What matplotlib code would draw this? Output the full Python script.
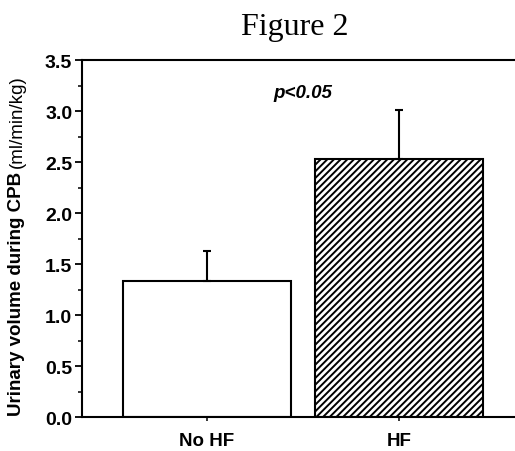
import matplotlib.pyplot as plt
from matplotlib.ticker import MultipleLocator

groups = ['No HF', 'HF']
volume = [1.33, 2.53]
volume_sd = [0.30, 0.48]
hatches = ['', '/////']

plt.rcParams['font.family'] = ['Liberation Sans', 'DejaVu Sans']
plt.rcParams['hatch.linewidth'] = 1.4

fig = plt.figure(figsize=(5.15, 4.52), dpi=100)
ax = fig.add_axes([0.159, 0.075, 0.876, 0.79])

x = list(range(len(groups)))
bars = ax.bar(x, volume, width=0.875, color='white', edgecolor='black',
              linewidth=1.5, zorder=2)
for b, h in zip(bars, hatches):
    b.set_hatch(h)
ax.errorbar(x, volume, yerr=[[0, 0], volume_sd], fmt='none', ecolor='black',
            elinewidth=1.5, capsize=3, capthick=1.5, zorder=3)

ax.set_xlim(-0.651, 1.7)
ax.set_ylim(0, 3.5)
ax.yaxis.set_major_locator(MultipleLocator(0.5))
ax.yaxis.set_minor_locator(MultipleLocator(0.25))
ax.set_yticks([0, 0.5, 1.0, 1.5, 2.0, 2.5, 3.0, 3.5])
ax.set_yticklabels([f'{v:.1f}' for v in ax.get_yticks()],
                   fontsize=14, fontweight='bold')
ax.set_xticks(x)
ax.set_xticklabels(groups, fontsize=13.5, fontweight='bold')
ax.tick_params(axis='y', which='major', length=5, width=1.3, pad=2)
ax.tick_params(axis='y', which='minor', length=3, width=1.1)
ax.tick_params(axis='x', length=3, width=1.1, pad=8)
for s in ax.spines.values():
    s.set_linewidth(1.5)

ax.text(0.5, 3.18, 'p<0.05', fontsize=13.5, fontweight='bold', style='italic',
        ha='center', va='center')

fig.text(0.573, 0.94, 'Figure 2', family='Liberation Serif', fontsize=23,
         ha='center', va='center')

# y label: bold main part, plain units stacked above it
fig.canvas.draw()
r = fig.canvas.get_renderer()
t1 = fig.text(0.033, 0.08, 'Urinary volume during CPB', rotation=90,
              fontsize=13.5, fontweight='bold', ha='center', va='bottom')
bb = t1.get_window_extent(r)
fig.text(0.033, (bb.y1 + 4) / fig.bbox.height, '(ml/min/kg)', rotation=90,
         fontsize=13.5, ha='center', va='bottom')

fig.savefig('out.png', dpi=100)
